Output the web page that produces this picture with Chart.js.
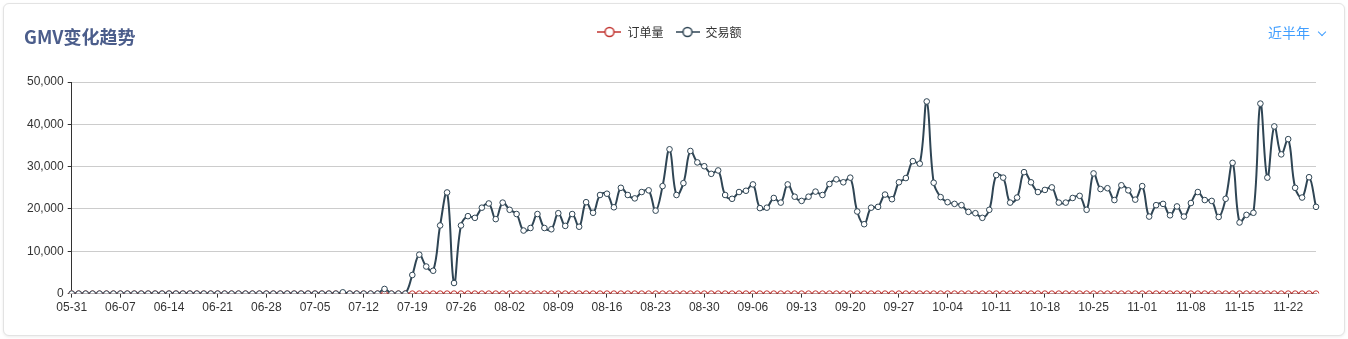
<!DOCTYPE html>
<html>
<head>
<meta charset="utf-8">
<script src="https://cdn.jsdelivr.net/npm/chart.js@4.4.1/dist/chart.umd.min.js"></script>
<style>
  html, body { margin: 0; padding: 0; background: #fff; width: 1348px; height: 339px; overflow: hidden; }
  .card { position: absolute; left: 3px; top: 3px; width: 1342px; height: 333px; box-sizing: border-box;
          border: 1px solid #e3e3e3; border-radius: 6px; box-shadow: 0 1px 3px rgba(0,0,0,0.08); background: #fff; }
  .title { position: absolute; left: 20px; top: 21px; line-height: 22px; font-family: "Noto Sans CJK SC", sans-serif;
           font-size: 18px; font-weight: bold; color: #4b5d8b; white-space: nowrap; }
  .range { position: absolute; left: 1264px; top: 18px; line-height: 20px; font-family: "Noto Sans CJK SC", sans-serif;
           font-size: 14px; color: #409eff; white-space: nowrap; }
  .chev { display: inline-block; width: 5px; height: 5px; border-right: 1.3px solid #409eff; border-bottom: 1.3px solid #409eff;
          transform: rotate(45deg); margin-left: 9px; position: relative; top: -3px; }
  .wrap { position: absolute; left: 0; top: 0; width: 1340px; height: 331px; }
</style>
</head>
<body>
<div class="card">
  <div class="wrap"><canvas id="c"></canvas></div>
  <div class="title">GMV变化趋势</div>
  <div class="range">近半年<span class="chev"></span></div>
</div>
<script>
const categories = [
"05-31",
"06-01","06-02","06-03","06-04","06-05","06-06","06-07","06-08","06-09","06-10",
"06-11","06-12","06-13","06-14","06-15","06-16","06-17","06-18","06-19","06-20",
"06-21","06-22","06-23","06-24","06-25","06-26","06-27","06-28","06-29","06-30",
"07-01","07-02","07-03","07-04","07-05","07-06","07-07","07-08","07-09","07-10",
"07-11","07-12","07-13","07-14","07-15","07-16","07-17","07-18","07-19","07-20",
"07-21","07-22","07-23","07-24","07-25","07-26","07-27","07-28","07-29","07-30","07-31",
"08-01","08-02","08-03","08-04","08-05","08-06","08-07","08-08","08-09","08-10",
"08-11","08-12","08-13","08-14","08-15","08-16","08-17","08-18","08-19","08-20",
"08-21","08-22","08-23","08-24","08-25","08-26","08-27","08-28","08-29","08-30","08-31",
"09-01","09-02","09-03","09-04","09-05","09-06","09-07","09-08","09-09","09-10",
"09-11","09-12","09-13","09-14","09-15","09-16","09-17","09-18","09-19","09-20",
"09-21","09-22","09-23","09-24","09-25","09-26","09-27","09-28","09-29","09-30",
"10-01","10-02","10-03","10-04","10-05","10-06","10-07","10-08","10-09","10-10",
"10-11","10-12","10-13","10-14","10-15","10-16","10-17","10-18","10-19","10-20",
"10-21","10-22","10-23","10-24","10-25","10-26","10-27","10-28","10-29","10-30","10-31",
"11-01","11-02","11-03","11-04","11-05","11-06","11-07","11-08","11-09","11-10",
"11-11","11-12","11-13","11-14","11-15","11-16","11-17","11-18","11-19","11-20",
"11-21","11-22","11-23","11-24","11-25","11-26"
];

// 订单量 (orders) — visually at 0 for the whole period
const orderCounts = [
0,
0,0,0,0,0,0,0,0,0,0, 0,0,0,0,0,0,0,0,0,0, 0,0,0,0,0,0,0,0,0,0,
0,0,0,0,0,0,0,0,0,0, 0,0,0,0,0,0,0,0,0,0, 0,0,0,0,0,0,0,0,0,0,0,
0,0,0,0,0,0,0,0,0,0, 0,0,0,0,0,0,0,0,0,0, 0,0,0,0,0,0,0,0,0,0,0,
0,0,0,0,0,0,0,0,0,0, 0,0,0,0,0,0,0,0,0,0, 0,0,0,0,0,0,0,0,0,0,
0,0,0,0,0,0,0,0,0,0, 0,0,0,0,0,0,0,0,0,0, 0,0,0,0,0,0,0,0,0,0,0,
0,0,0,0,0,0,0,0,0,0, 0,0,0,0,0,0,0,0,0,0, 0,0,0,0,0,0
];

// 交易额 (GMV)
const gmvValues = [
0,
0,0,0,0,0,0,0,0,0,0, 0,0,0,0,0,0,0,0,0,0, 0,0,0,0,0,0,0,0,0,0,
0,0,0,0,0,0,0,0,300,0, 0,0,0,0,1100,0,0,0,4400,9200,
6400,5400,16100,23900,2500,16100,18300,17900,20300,21300,17600,21500,
19800,18800,14900,15500,18800,15500,15200,19000,16000,18800,
15800,21600,19100,23300,23600,20400,25000,23300,22500,24000,
24400,19600,25400,34100,23300,26100,33700,31000,30100,28300,29100,
23300,22400,24000,24300,25800,20200,20300,22600,21500,25800,
22900,21900,22900,24100,23300,25900,27000,26300,27400,19400,
16400,20300,20500,23400,22300,26300,27300,31300,30700,45400,
26200,22800,21600,21200,20900,19300,19000,17900,19800,28000,
27400,21500,22700,28700,26300,24000,24500,25100,21500,21500,
22600,23100,19800,28400,24700,24900,22100,25600,24400,22200,25400,
18200,20900,21200,18500,20600,18200,21400,24000,22100,21900,
18100,22400,30900,16800,18600,19100,44900,27400,39500,32900,
36500,25000,22700,27500,20500
];

const yTicks = [0, 10000, 20000, 30000, 40000, 50000];
const seriesNames = ["订单量", "交易额"];
const seriesColors = ["#c23531", "#2f4554"];

function legendIcon(color) {
  const cv = document.createElement('canvas');
  cv.width = 24; cv.height = 12;
  const g = cv.getContext('2d');
  g.strokeStyle = color; g.lineWidth = 1.5;
  g.beginPath(); g.moveTo(0, 6); g.lineTo(24, 6); g.stroke();
  g.beginPath(); g.arc(12, 6, 4.5, 0, Math.PI * 2);
  g.fillStyle = '#fff'; g.fill(); g.stroke();
  return cv;
}
const icons = seriesColors.map(legendIcon);

const legendSpace = {
  id: 'legendSpace',
  afterInit(chart) {
    const lg = chart.legend;
    if (!lg) return;
    const orig = lg.fit;
    lg.fit = function () { orig.call(this); this.height = 68; };
  }
};

new Chart(document.getElementById('c'), {
  type: 'line',
  data: {
    labels: categories,
    datasets: [
      { label: seriesNames[0], data: orderCounts, borderColor: seriesColors[0], backgroundColor: '#fff',
        borderWidth: 2, pointRadius: 2.8, pointBorderWidth: 1, pointBackgroundColor: '#fff',
        pointBorderColor: seriesColors[0], tension: 0.4, order: 1 },
      { label: seriesNames[1], data: gmvValues, borderColor: seriesColors[1], backgroundColor: '#fff',
        borderWidth: 2, pointRadius: 2.8, pointBorderWidth: 1, pointBackgroundColor: '#fff',
        pointBorderColor: seriesColors[1], tension: 0.4, order: 0 }
    ]
  },
  options: {
    responsive: true,
    maintainAspectRatio: false,
    animation: false,
    layout: { padding: { left: 19, right: 28, top: 10, bottom: 17 } },
    plugins: {
      tooltip: { enabled: false },
      legend: {
        display: true,
        position: 'top',
        align: 'center',
        labels: {
          usePointStyle: true,
          pointStyleWidth: 24,
          padding: 12,
          color: '#333',
          font: { family: '"Noto Sans CJK SC", sans-serif', size: 12 },
          sort: (a, b) => a.datasetIndex - b.datasetIndex,
          generateLabels(chart) {
            const items = Chart.defaults.plugins.legend.labels.generateLabels(chart);
            items.forEach(it => { it.pointStyle = icons[it.datasetIndex]; });
            return items;
          }
        }
      }
    },
    scales: {
      x: {
        type: 'category',
        offset: false,
        border: { color: '#333', width: 1 },
        grid: { drawOnChartArea: false, drawTicks: true, tickLength: 4, color: '#333' },
        ticks: {
          autoSkip: false, maxRotation: 0, minRotation: 0, padding: 3,
          color: '#333', font: { family: '"Liberation Sans", Arial, sans-serif', size: 12 },
          callback: function (v, i) { return i % 7 === 0 ? categories[i] : null; }
        }
      },
      y: {
        min: yTicks[0], max: yTicks[yTicks.length - 1],
        border: { color: '#333', width: 1 },
        grid: { color: '#ccc', tickColor: '#333', tickLength: 4, lineWidth: 1 },
        afterBuildTicks: (axis) => { axis.ticks = yTicks.map(v => ({ value: v })); },
        ticks: {
          padding: 4, color: '#333', font: { family: '"Liberation Sans", Arial, sans-serif', size: 12 },
          callback: (v) => Number(v).toLocaleString('en-US')
        }
      }
    }
  },
  plugins: [legendSpace]
});
</script>
</body>
</html>
